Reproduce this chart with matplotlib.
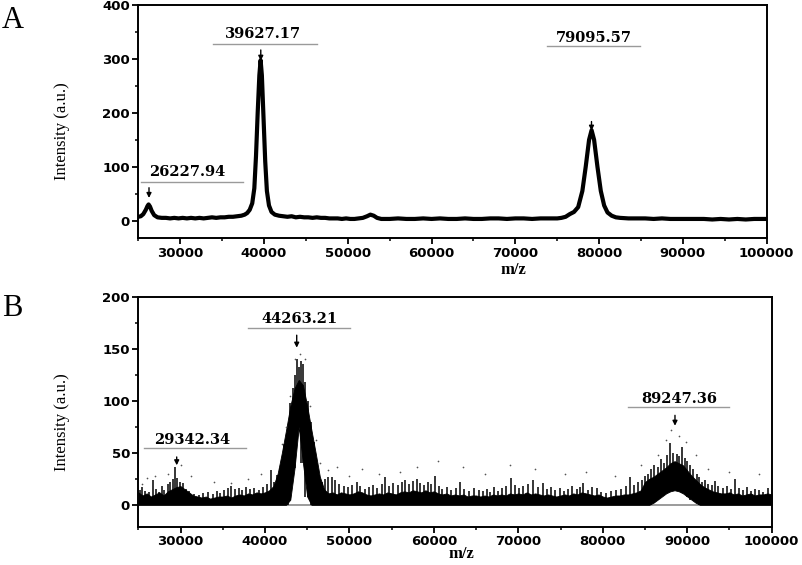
import numpy as np
import matplotlib
matplotlib.use("Agg")
import matplotlib.pyplot as plt
from matplotlib.ticker import MultipleLocator

# ---------------- panel A : thick spectrum line ----------------
a_mz = [25000, 25300, 25600, 25900, 26100, 26230, 26400, 26600, 26900, 27300,
        27800, 28300, 28800, 29300, 29800, 30300, 30800, 31300, 31800, 32300,
        32800, 33300, 33800, 34300, 34800, 35300, 35800, 36300, 36800, 37300,
        37700, 38000, 38300, 38600, 38850, 39050, 39250, 39450, 39600, 39750,
        39950, 40150, 40350, 40600, 40900, 41300, 41800, 42300, 42800, 43300,
        43800, 44300, 44800, 45300, 45800, 46300, 46800, 47300, 47800, 48300,
        48800, 49300, 49800, 50300, 50800, 51300, 51800, 52300, 52700, 53100,
        53500, 54000, 55000, 56000, 57000, 58000, 59000, 60000, 61000, 62000,
        63000, 64000, 65000, 66000, 67000, 68000, 69000, 70000, 71000, 72000,
        73000, 74000, 75000, 75500, 76000, 76500, 77000, 77500, 78000, 78400,
        78800, 79100, 79400, 79800, 80200, 80600, 81000, 81500, 82000, 82500,
        83500, 84500, 85500, 86500, 87500, 88500, 89500, 90500, 91500, 92500,
        93500, 94500, 95500, 96500, 97500, 98500, 99500, 100000]
a_int = [7, 8, 12, 20, 27, 30, 26, 18, 10, 6,
         5, 5, 4, 5, 4, 5, 4, 5, 4, 5,
         4, 5, 6, 5, 6, 6, 7, 7, 8, 9,
         11, 14, 20, 32, 60, 120, 200, 270, 298, 270,
         190, 110, 55, 28, 16, 11, 9, 8, 7, 8,
         6, 7, 6, 6, 5, 6, 5, 5, 4, 4,
         4, 3, 4, 3, 3, 4, 5, 8, 11, 9,
         5, 3, 3, 4, 3, 3, 4, 3, 4, 3,
         3, 4, 3, 3, 4, 4, 3, 4, 4, 3,
         4, 4, 4, 5, 7, 12, 16, 25, 55, 100,
         150, 168, 150, 100, 55, 28, 15, 9, 6, 5,
         4, 4, 4, 3, 4, 3, 3, 3, 3, 3,
         2, 3, 2, 3, 2, 3, 3, 3]

# ---------------- panel B : noisy spectrum ----------------
b_grid = np.arange(25000, 100001, 500)
b_body = [12, 9, 11, 8, 10, 12, 9, 13, 15, 17,
          18, 15, 12, 9, 8, 7, 8, 6, 7, 8,
          8, 9, 7, 9, 10, 9, 11, 10, 12, 11,
          12, 14, 18, 30, 50, 72, 95, 112, 120, 115,
          95, 72, 50, 27, 15, 11, 12, 10, 12, 11,
          10, 11, 13, 12, 10, 9, 10, 11, 10, 12,
          11, 10, 12, 13, 12, 14, 13, 12, 14, 12,
          13, 11, 10, 11, 9, 10, 9, 10, 8, 9,
          9, 8, 9, 8, 10, 9, 10, 9, 11, 10,
          11, 10, 12, 10, 11, 10, 9, 10, 9, 8,
          9, 10, 9, 11, 10, 12, 11, 10, 9, 10,
          8, 7, 8, 9, 9, 10, 10, 11, 12, 14,
          22, 25, 27, 30, 33, 36, 40, 42, 40, 38,
          33, 28, 24, 20, 17, 15, 13, 12, 11, 11,
          12, 10, 11, 9, 10, 11, 9, 10, 10, 11,
          10]
# bottom of the dense band where it lifts off zero (inside the two peaks)
b_floor = {43000: 5, 43500: 35, 44000: 75, 44500: 40, 45000: 8,
           86000: 2, 86500: 5, 87000: 8, 87500: 11, 88000: 13, 88500: 14,
           89000: 13, 89500: 11, 90000: 8, 90500: 5, 91000: 2}

spike_mz = [25200, 25500, 25800, 26300, 26700, 27100, 27400, 27800, 28100, 28500,
            28800, 29100, 29350, 29600, 29900, 30300, 30700, 31000, 31600, 32200,
            32700, 33200, 33800, 34300, 34700, 35200, 35600, 35950, 36400, 36900,
            37300, 37800, 38200, 38700, 39300, 39800, 40300, 40700, 41100, 41400,
            41800, 42300, 42700, 43000, 43300, 43600, 43800, 44050, 44300, 44550,
            44800, 45100, 45400, 45800, 46200, 46700, 47100, 47500, 47900, 48350,
            48800, 49300, 49800, 50300, 50900, 51300, 51800, 52300, 52800, 53300,
            53800, 54260, 54700, 55200, 55700, 56200, 56600, 57100, 57500, 58000,
            58400, 58800, 59300, 59700, 60130, 60600, 61000, 61500, 62000, 62600,
            63100, 63600, 64200, 64800, 65300, 65800, 66300, 66700, 67120, 67600,
            68100, 68600, 69130, 69600, 70100, 70600, 71200, 71700, 72300, 72900,
            73400, 73900, 74400, 74930, 75400, 75900, 76400, 76900, 77300, 77650,
            78200, 78700, 79280, 79800, 80400, 81000, 81600, 82200, 82700, 83200,
            83700, 84200, 84600, 85000, 85300, 85700, 86100, 86500, 86900, 87300,
            87600, 87960, 88300, 88750, 89050, 89340, 89700, 90000, 90330, 90700,
            91100, 91400, 91710, 92100, 92500, 92900, 93290, 93700, 94200, 94700,
            95200, 95660, 96100, 96600, 97040, 97500, 98000, 98500, 99000, 99600]
spike_int = [14, 17, 13, 12, 24, 15, 12, 18, 14, 20,
             22, 25, 36, 26, 22, 21, 15, 13, 10, 9,
             11, 12, 10, 13, 11, 14, 16, 18, 15, 16,
             14, 17, 15, 16, 14, 17, 20, 33, 22, 29,
             35, 58, 75, 98, 112, 125, 140, 132, 138, 135,
             118, 100, 80, 60, 36, 22, 25, 27, 27, 24,
             20, 18, 17, 19, 22, 18, 15, 17, 19, 16,
             20, 27, 18, 21, 19, 22, 24, 20, 23, 25,
             21, 19, 22, 20, 28, 18, 15, 17, 14, 16,
             22, 15, 13, 16, 14, 13, 15, 12, 17, 13,
             16, 18, 26, 19, 16, 18, 20, 24, 17, 21,
             15, 17, 14, 16, 13, 15, 18, 15, 17, 21,
             14, 17, 16, 12, 11, 13, 14, 15, 18, 27,
             19, 22, 24, 28, 30, 34, 38, 36, 44, 40,
             48, 59, 50, 49, 47, 56, 45, 42, 38, 34,
             30, 27, 22, 24, 20, 19, 23, 18, 16, 18,
             15, 25, 16, 14, 17, 13, 15, 14, 12, 16]

dot_mz = [25500, 26000, 27000, 28500, 30000, 31200, 34000, 36000, 38000, 39500,
          42000, 42500, 43000, 43500, 44200, 44700, 45300, 46000, 46500, 47500,
          48500, 50000, 51500, 53500, 56000, 58000, 60500, 63500, 66000, 69000,
          72000, 75500, 78000, 81500, 84500, 86500, 87500, 88100, 89000, 89800,
          91000, 92500, 95000, 98500]
dot_int = [20, 26, 28, 30, 38, 28, 22, 21, 25, 30,
           58, 75, 105, 140, 145, 140, 95, 62, 40, 33,
           36, 28, 34, 30, 32, 36, 42, 36, 30, 38,
           34, 30, 32, 28, 38, 48, 62, 72, 66, 60,
           48, 34, 32, 30]

# ---------------- peak labels ----------------
a_labels = ["26227.94", "39627.17", "79095.57"]
a_arrow_mz = [26280, 39620, 79090]
b_labels = ["29342.34", "44263.21", "89247.36"]
b_arrow_mz = [29550, 43760, 88550]


def style_axes(ax, ylim, ymajor, yminor):
    ax.set_xlim(25000, 100000)
    ax.set_ylim(*ylim)
    ax.xaxis.set_minor_locator(MultipleLocator(5000))
    ax.yaxis.set_minor_locator(MultipleLocator(yminor))
    ax.set_xticks([30000, 40000, 50000, 60000, 70000, 80000, 90000, 100000])
    ax.set_yticks(np.arange(0, ylim[1] + 1, ymajor))
    ax.tick_params(which="major", direction="out", length=4, width=1.3)
    ax.tick_params(which="minor", direction="out", length=2.5, width=1.1)
    ax.tick_params(axis="both", labelsize=9.5, pad=2)
    for lab in ax.get_xticklabels() + ax.get_yticklabels():
        lab.set_fontweight("bold")
    for sp in ax.spines.values():
        sp.set_linewidth(1.4)


def label_peak(ax, text, arrow_x, text_xy, line_x, line_y, arrow_y):
    ax.text(text_xy[0], text_xy[1], text, ha="center", va="center",
            fontsize=10.5, fontweight="bold", family="DejaVu Serif")
    ax.plot(line_x, [line_y, line_y], color="#9a9a9a", lw=1, clip_on=False)
    ax.annotate("", xy=(arrow_x, arrow_y[1]), xytext=(arrow_x, arrow_y[0]),
                arrowprops=dict(arrowstyle="-|>", color="black", lw=1,
                                mutation_scale=7, shrinkA=0, shrinkB=0))


fig = plt.figure(figsize=(8.03, 5.65), dpi=100)
ax1 = fig.add_axes([0.1722, 0.5782, 0.7826, 0.4124])
ax2 = fig.add_axes([0.1722, 0.0678, 0.7888, 0.4071])

# panel A
ax1.plot(a_mz, a_int, color="black", lw=3.0, solid_joinstyle="round")
style_axes(ax1, (-33, 400), 100, 50)
label_peak(ax1, a_labels[0], a_arrow_mz[0], (30780, 90), (25320, 37470), 72, (61, 42))
label_peak(ax1, a_labels[1], a_arrow_mz[1], (39900, 347), (33900, 46330), 329, (317, 297))
label_peak(ax1, a_labels[2], a_arrow_mz[2], (79360, 340), (73800, 84860), 324, (184, 167))

# panel B
b_low = np.array([b_floor.get(int(m), 0) for m in b_grid], dtype=float)
# spikes start where the dense band starts (nearest grid point)
spike_base = [b_floor.get(int(round(m / 500.0) * 500), 0) for m in spike_mz]
ax2.axhline(0, color="#8a8a8a", lw=1.2, zorder=1)
ax2.fill_between(b_grid, b_low, b_body, color="black", lw=0.6, zorder=2)
ax2.vlines(spike_mz, spike_base, spike_int, color="black", lw=1.1, zorder=3)
ax2.scatter(dot_mz, dot_int, s=1.5, color="#555555", lw=0, zorder=3)
style_axes(ax2, (-21, 200), 50, 25)
label_peak(ax2, b_labels[0], b_arrow_mz[0], (31320, 62), (25675, 37750), 55, (46, 38))
label_peak(ax2, b_labels[1], b_arrow_mz[1], (44150, 179), (38030, 50070), 170, (163, 151))
label_peak(ax2, b_labels[2], b_arrow_mz[2], (89030, 102), (82950, 94950), 94, (86, 76))

# axis titles and panel letters
for yc, mz_x, mz_y in [(131, 513, 270), (422, 461, 554)]:
    fig.text(62 / 803, 1 - yc / 565, "Intensity (a.u.)", rotation=90,
             ha="center", va="center", fontsize=12, family="Liberation Serif")
    fig.text(mz_x / 803, 1 - mz_y / 565, "m/z", ha="center", va="center",
             fontsize=12, fontweight="bold", family="Liberation Serif")
fig.text(2 / 803, 1 - 20 / 565, "A", ha="left", va="center", fontsize=22,
         family="Liberation Serif")
fig.text(2 / 803, 1 - 308 / 565, "B", ha="left", va="center", fontsize=22,
         family="Liberation Serif")

fig.savefig("out.png", dpi=100)
